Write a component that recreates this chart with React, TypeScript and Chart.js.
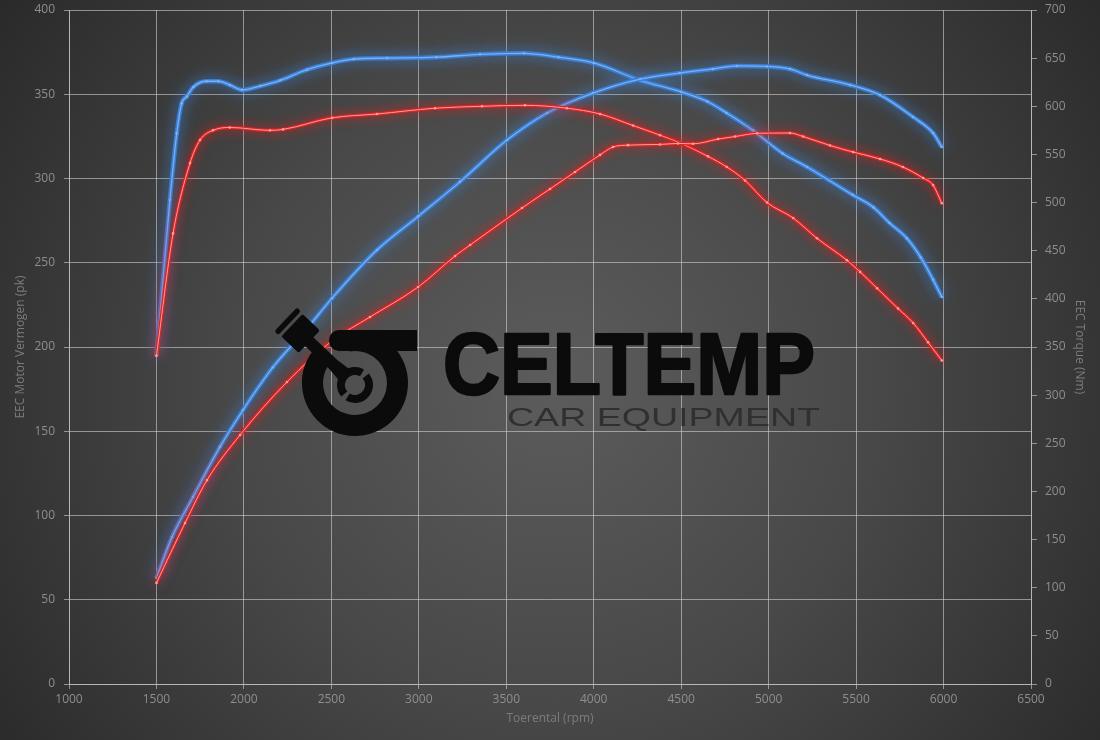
import React, { useEffect, useRef } from "react";
import { Chart, registerables } from "chart.js";

Chart.register(...registerables);

// ---------- data ----------
const xTitle = "Toerental (rpm)";
const yLeftTitle = "EEC Motor Vermogen (pk)";
const yRightTitle = "EEC Torque (Nm)";

// Blue (tuned) torque – Nm, right axis
const blueTorqueRpm = [1500, 1577, 1616, 1644, 1673, 1711, 1787, 1854, 1921, 1990, 2093, 2208, 2361, 2504, 2628, 2819, 3100, 3350, 3600, 3800, 4000, 4265, 4500, 4650, 4760, 4910, 5080, 5220, 5480, 5600, 5690, 5790, 5870, 5940, 5990];
const blueTorqueNm = [341, 503, 572, 603, 610, 620, 626, 626, 622, 617, 621, 627, 638, 645, 649, 650, 651, 654, 655, 651, 645, 627, 615, 605, 593, 575, 551, 537, 508, 495, 479, 463, 443, 420, 402];

// Red (stock) torque – Nm, right axis
const redTorqueRpm = [1500, 1595, 1692, 1749, 1823, 1920, 2149, 2224, 2504, 2761, 3093, 3361, 3607, 3847, 4036, 4225, 4379, 4493, 4653, 4761, 4865, 4991, 5140, 5276, 5448, 5523, 5620, 5740, 5826, 5911, 5990];
const redTorqueNm = [341, 468, 541, 565, 575, 578, 575, 576, 588, 592, 598, 600, 601, 598, 592, 580, 570, 562, 548, 537, 523, 500, 484, 463, 440, 428, 411, 390, 375, 355, 336];

// Blue (tuned) power – pk, left axis
const bluePowerRpm = [1500, 1589, 1709, 1863, 1995, 2166, 2361, 2504, 2761, 2996, 3235, 3504, 3733, 3996, 4265, 4493, 4682, 4819, 4991, 5122, 5219, 5465, 5637, 5826, 5940, 5990];
const bluePowerPk = [62.9, 87.2, 111, 140.7, 162.6, 188, 211, 229, 257.6, 277.5, 298, 322.8, 338.9, 350.7, 359, 362.6, 365, 366.8, 366.5, 365, 361.4, 355.5, 349.5, 336.5, 327, 318.7];

// Red (stock) power – pk, left axis
const redPowerRpm = [1500, 1663, 1789, 1978, 2246, 2509, 2721, 2996, 3207, 3293, 3590, 3750, 3893, 4036, 4110, 4196, 4379, 4482, 4568, 4711, 4808, 4934, 5122, 5197, 5351, 5483, 5637, 5768, 5883, 5940, 5990];
const redPowerPk = [60, 95.5, 121, 147.8, 179.2, 204, 217.8, 235.6, 254, 260.5, 282.5, 293.8, 303.9, 314, 318.7, 319.8, 320.2, 320.8, 320.6, 323.4, 324.9, 326.8, 327, 324.9, 319.6, 315.7, 311.6, 306.8, 300.3, 296.1, 285.3];

// axis ranges
const xMin = 1000, xMax = 6500, xStep = 500;
const yMin = 0, yMax = 400, yStep = 50;
const y2Min = 0, y2Max = 700, y2Step = 50;

// ---------- styling ----------
const gridColor = "rgba(205,205,205,0.62)";
const tickColor = "#8e8e8e";
const titleColor = "#7c7c7c";
const fontFamily = '"Open Sans", "DejaVu Sans", sans-serif';

const toXY = (xs: number[], ys: number[]) => xs.map((x, i) => ({ x, y: ys[i] }));

const BLUE = { band: "#3a7dd3", core: "#7ab1f0", glow: "rgba(60,140,235,0.95)", blur: 14 };
const RED = { band: "#d82525", core: "#ff9c9c", glow: "rgba(245,25,25,0.95)", blur: 11 };

function curve(xs: number[], ys: number[], axis: string, c: any, bandW: number, coreW: number) {
  const data = toXY(xs, ys);
  return [
    {
      data,
      yAxisID: axis,
      borderColor: c.core,
      borderWidth: coreW,
      pointRadius: 1.3,
      pointBackgroundColor: c.core,
      pointBorderWidth: 0,
      fill: false,
    },
    {
      data,
      yAxisID: axis,
      borderColor: c.band,
      borderWidth: bandW,
      pointRadius: 0,
      fill: false,
      glow: c.glow,
      glowBlur: c.blur,
    },
  ];
}

// ---------- plugins ----------
const bgPlugin = {
  id: "bgGradient",
  beforeDraw(chart: any) {
    const { ctx, width, height } = chart;
    ctx.save();
    const g = ctx.createRadialGradient(555, 385, 0, 555, 385, 720);
    g.addColorStop(0, "#5c5c5c");
    g.addColorStop(0.45, "#484848");
    g.addColorStop(1, "#262626");
    ctx.fillStyle = g;
    ctx.fillRect(0, 0, width, height);
    ctx.restore();
  },
};

const glowPlugin = {
  id: "glow",
  beforeDatasetDraw(chart: any, args: any) {
    const ds: any = chart.data.datasets[args.index];
    if (ds.glow) {
      chart.ctx.save();
      chart.ctx.shadowColor = ds.glow;
      chart.ctx.shadowBlur = ds.glowBlur || 10;
    }
  },
  afterDatasetDraw(chart: any, args: any) {
    const ds: any = chart.data.datasets[args.index];
    if (ds.glow) chart.ctx.restore();
  },
};

function annular(ctx: CanvasRenderingContext2D, cx: number, cy: number, R: number, r: number, a0: number, a1: number) {
  const d = Math.PI / 180;
  ctx.beginPath();
  ctx.arc(cx, cy, R, a0 * d, a1 * d, false);
  ctx.arc(cx, cy, r, a1 * d, a0 * d, true);
  ctx.closePath();
  ctx.fill();
}

function drawLogo(ctx: CanvasRenderingContext2D) {
  ctx.save();
  ctx.fillStyle = "#0b0b0b";
  ctx.strokeStyle = "#0b0b0b";
  const cx = 355, cy = 383;
  // housing ring with gap at top-left
  annular(ctx, cx, cy, 53, 32, -100, 216);
  // top bar
  ctx.beginPath();
  (ctx as any).roundRect(329, 330, 88, 21, [10, 0, 0, 10]);
  ctx.fill();
  // crank ring (broken)
  annular(ctx, cx, cy + 2, 18, 10, -40, 122);
  annular(ctx, cx, cy + 2, 18, 10, 140, 300);
  // rod + piston
  ctx.save();
  ctx.translate(cx, cy + 2);
  ctx.rotate(Math.atan2(-53, -56));
  ctx.beginPath();
  ctx.moveTo(12, -8);
  ctx.lineTo(30, -6);
  ctx.lineTo(66, -6);
  ctx.lineTo(66, 6);
  ctx.lineTo(30, 6);
  ctx.lineTo(12, 8);
  ctx.closePath();
  ctx.fill();
  ctx.beginPath();
  (ctx as any).roundRect(63, -15.5, 24, 31, 2);
  ctx.fill();
  ctx.beginPath();
  (ctx as any).roundRect(90, -16.5, 5.5, 33, 2.5);
  ctx.fill();
  ctx.restore();

  // CELTEMP
  ctx.font = 'bold 88px "Liberation Sans", Arial, sans-serif';
  ctx.textBaseline = "alphabetic";
  ctx.textAlign = "left";
  const w = ctx.measureText("CELTEMP").width;
  ctx.save();
  ctx.translate(443, 394);
  ctx.scale(372 / w, 1);
  ctx.lineJoin = "round";
  ctx.lineWidth = 2.5;
  ctx.fillText("CELTEMP", 0, 0);
  ctx.strokeText("CELTEMP", 0, 0);
  ctx.restore();

  // CAR EQUIPMENT
  ctx.fillStyle = "#303030";
  ctx.font = '25px "Liberation Sans", Arial, sans-serif';
  const w2 = ctx.measureText("CAR EQUIPMENT").width;
  ctx.save();
  ctx.translate(507, 426);
  ctx.scale(313 / w2, 1);
  ctx.fillText("CAR EQUIPMENT", 0, 0);
  ctx.restore();
  ctx.restore();
}

const logoPlugin = {
  id: "logo",
  afterDatasetsDraw(chart: any) {
    drawLogo(chart.ctx);
  },
};

const fitVertical = (s: any) => {
  s.width = 69;
  s.paddingTop = 10;
  s.paddingBottom = 0;
};

export default function App() {
  const ref = useRef<HTMLCanvasElement>(null);

  useEffect(() => {
    document.body.style.margin = "0";
    const canvas = ref.current;
    if (!canvas) return;

    const datasets: any[] = [
      ...curve(redPowerRpm, redPowerPk, "y", RED, 3.5, 1),
      ...curve(redTorqueRpm, redTorqueNm, "y2", RED, 3.5, 1),
      ...curve(bluePowerRpm, bluePowerPk, "y", BLUE, 4.5, 1.3),
      ...curve(blueTorqueRpm, blueTorqueNm, "y2", BLUE, 4.5, 1.3),
    ];

    const tickFont = { family: fontFamily, size: 12 };
    const titleFont = { family: fontFamily, size: 12 };

    const chart = new Chart(canvas, {
      type: "line",
      data: { datasets },
      options: {
        animation: false,
        responsive: false,
        devicePixelRatio: 1,
        layout: { padding: { top: 0, left: 0, right: 0, bottom: 0 } },
        plugins: { legend: { display: false }, tooltip: { enabled: false } },
        elements: { line: { tension: 0.4, cubicInterpolationMode: "monotone" } },
        scales: {
          x: {
            type: "linear",
            min: xMin,
            max: xMax,
            ticks: {
              stepSize: xStep,
              color: tickColor,
              font: tickFont,
              padding: 3,
              maxRotation: 0,
              autoSkip: false,
              callback: (v: any) => String(v),
            },
            grid: { color: gridColor, tickColor: gridColor, tickLength: 5 },
            border: { color: gridColor },
            title: { display: true, text: xTitle, color: titleColor, font: titleFont, padding: { top: 0, bottom: 14 } },
            afterFit: (s: any) => { s.height = 56; },
          },
          y: {
            type: "linear",
            position: "left",
            min: yMin,
            max: yMax,
            ticks: {
              stepSize: yStep,
              color: tickColor,
              font: tickFont,
              padding: 9,
              autoSkip: false,
              callback: (v: any) => String(v),
            },
            grid: { color: gridColor, tickColor: gridColor, tickLength: 5 },
            border: { color: gridColor },
            title: { display: true, text: yLeftTitle, color: titleColor, font: titleFont, padding: { top: 13, bottom: 0 } },
            afterFit: fitVertical,
          },
          y2: {
            type: "linear",
            position: "right",
            min: y2Min,
            max: y2Max,
            ticks: {
              stepSize: y2Step,
              color: tickColor,
              font: tickFont,
              padding: 8,
              autoSkip: false,
              callback: (v: any) => String(v),
            },
            grid: { drawOnChartArea: false, color: gridColor, tickColor: gridColor, tickLength: 6 },
            border: { color: gridColor },
            title: { display: true, text: yRightTitle, color: titleColor, font: titleFont, padding: { top: 13, bottom: 0 } },
            afterFit: fitVertical,
          },
        },
      } as any,
      plugins: [bgPlugin, glowPlugin, logoPlugin],
    });

    return () => chart.destroy();
  }, []);

  return (
    <div style={{ width: 1100, height: 740 }}>
      <canvas ref={ref} width={1100} height={740} style={{ display: "block", width: 1100, height: 740 }} />
    </div>
  );
}
